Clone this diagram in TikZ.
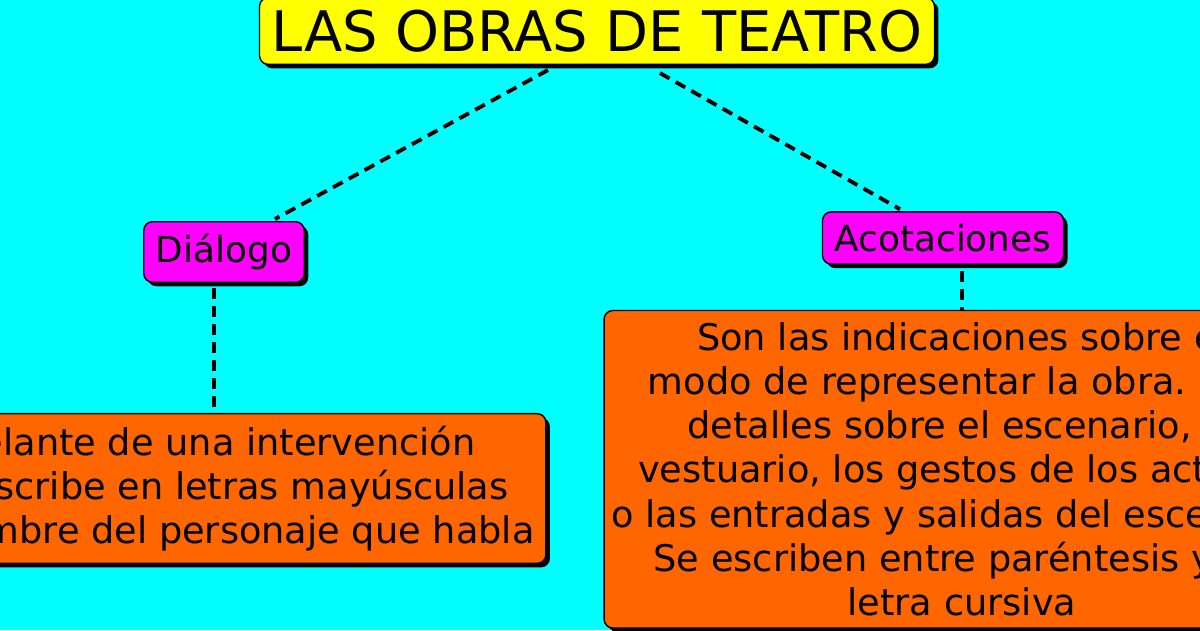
\documentclass[tikz,border=0pt]{standalone}
\usepackage{fontspec}
\setmainfont{DejaVu Sans}
\usetikzlibrary{
  positioning,
  shadows
}
\definecolor{fondo}{HTML}{00FFFF}
\definecolor{amarillo}{HTML}{FFFF00}
\definecolor{rosa}{HTML}{FF00FF}
\definecolor{naranja}{HTML}{FF6600}
\tikzset{
  caja/.style={draw=black, line width=0.8pt, align=center, rounded corners=5pt,
    drop shadow={shadow xshift=0.08cm, shadow yshift=-0.08cm, fill=black, opacity=1}},
  enlace/.style={draw=black, line width=2.2pt, dash pattern=on 0.22cm off 0.14cm},
}

\begin{document}
\begin{tikzpicture}[x=0.02cm, y=-0.02cm]
      \useasboundingbox (0,0) rectangle (1200,630);
      \clip (0,0) rectangle (1200,630);
      \fill[fondo] (0,0) rectangle (1200,630);
      \fontsize{20.9}{25.1}\selectfont
      \node (titulo) [caja, fill=amarillo, minimum width=13.4cm, minimum height=1.12cm,
        font=\fontsize{31.8}{38}\selectfont] at (597,31) {LAS OBRAS DE TEATRO};
      \node (dialogo) [caja, fill=rosa, minimum width=3.06cm, minimum height=1.1cm,
        font=\fontsize{20.4}{25}\selectfont] at (224,252) {Diálogo};
      \node (acot) [caja, fill=rosa, minimum width=4.68cm, minimum height=0.94cm,
        font=\fontsize{20.4}{25}\selectfont] at (943,238) {Acotaciones};
      \node (dialtexto) [caja, fill=naranja, below=2.6cm of dialogo, xshift=-0.2cm,
        inner xsep=3pt, minimum width=13.28cm, minimum height=2.86cm] {
        Delante de una intervención \\
        se escribe en letras mayúsculas \\
        el nombre del personaje que habla
      };
      \node (acottexto) [caja, fill=naranja, below=0.9cm of acot, xshift=0.38cm,
        inner xsep=3pt, minimum width=14.32cm, minimum height=6.2cm] {
        Son las indicaciones sobre el \\
        modo de representar la obra. Dan \\
        detalles sobre el escenario, el \\
        vestuario, los gestos de los actores \\
        o las entradas y salidas del escenario. \\
        Se escriben entre paréntesis y en \\
        letra cursiva
      };

      \draw[enlace] ([xshift=-0.98cm, yshift=-0.1cm]titulo.south) -- ([xshift=1.02cm, yshift=0.04cm]dialogo.north);
      \draw[enlace] ([xshift=1.26cm, yshift=-0.16cm]titulo.south) -- ([xshift=-0.86cm, yshift=0.04cm]acot.north);
      \draw[enlace] ([yshift=-0.1cm]dialogo.south -| dialtexto.north) -- (dialtexto.north);
      \draw[enlace] ([yshift=-0.12cm]acot.south -| acottexto.north) -- (acottexto.north);
    \end{tikzpicture}
\end{document}
